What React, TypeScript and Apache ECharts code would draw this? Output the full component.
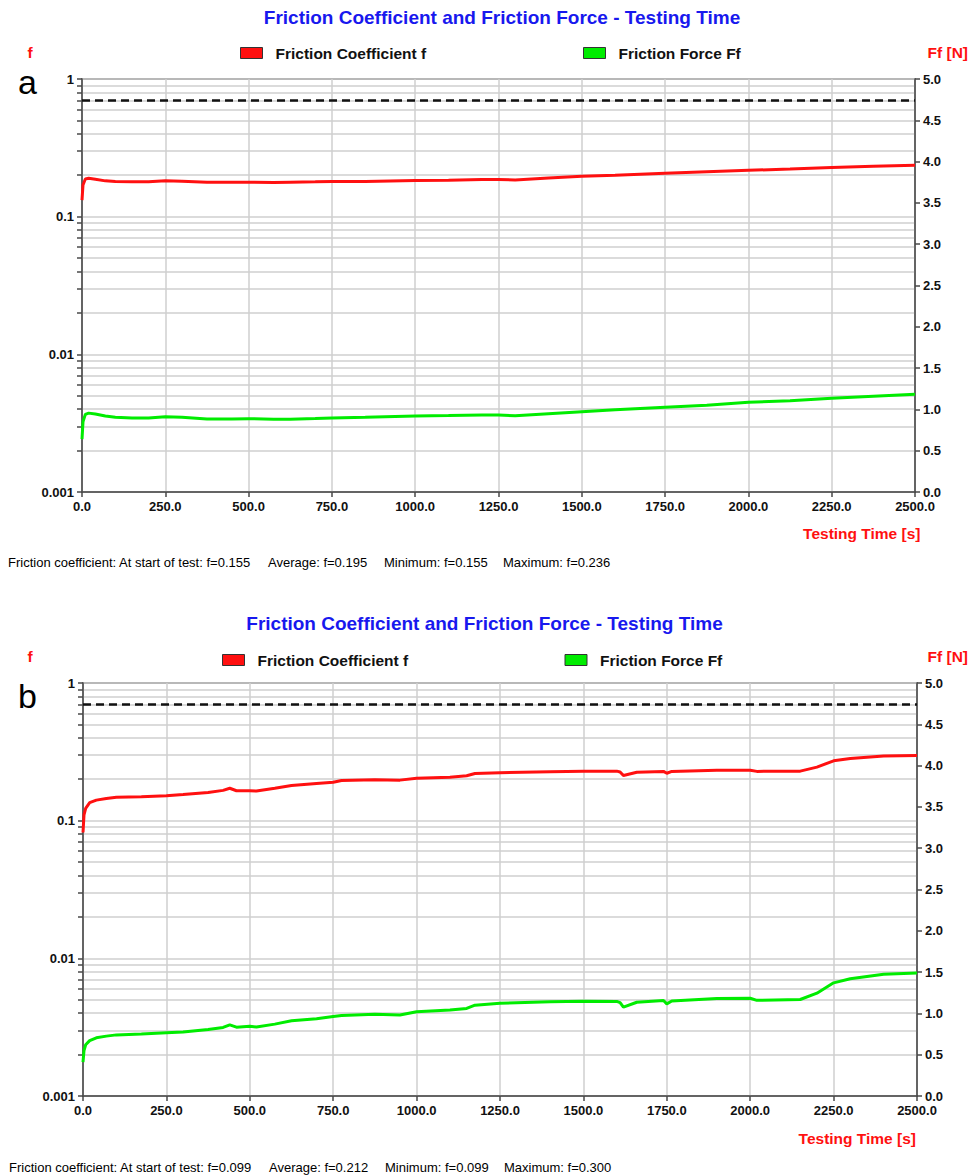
import React, { useEffect, useRef } from "react";
import * as echarts from "echarts";

const TITLE = "Friction Coefficient and Friction Force - Testing Time";
const NAME_F = "Friction Coefficient f";
const NAME_FF = "Friction Force Ff";
const LEFT_AXIS_NAME = "f";
const RIGHT_AXIS_NAME = "Ff [N]";
const X_AXIS_NAME = "Testing Time [s]";

// Panel a
const TIME_A = [0, 3, 10, 20, 40, 70, 100, 150, 200, 250, 300, 375, 450, 500, 575, 625, 700, 750, 850, 1000, 1100, 1200, 1250, 1300, 1400, 1500, 1600, 1750, 1875, 2000, 2125, 2250, 2375, 2500];
const F_A = [0.132, 0.17, 0.188, 0.19, 0.187, 0.182, 0.18, 0.179, 0.179, 0.182, 0.181, 0.178, 0.178, 0.178, 0.177, 0.178, 0.179, 0.18, 0.18, 0.183, 0.184, 0.186, 0.186, 0.185, 0.191, 0.197, 0.2, 0.207, 0.212, 0.217, 0.222, 0.228, 0.232, 0.236];
const FF_A = [0.64, 0.85, 0.94, 0.955, 0.945, 0.92, 0.905, 0.895, 0.895, 0.91, 0.905, 0.885, 0.885, 0.888, 0.882, 0.882, 0.89, 0.896, 0.905, 0.92, 0.925, 0.932, 0.932, 0.924, 0.948, 0.972, 0.995, 1.025, 1.05, 1.086, 1.105, 1.134, 1.16, 1.183];
const STATS_A = ["Friction coefficient: At start of test: f=0.155", "Average: f=0.195", "Minimum: f=0.155", "Maximum: f=0.236"];

// Panel b
const TIME_B = [0, 3, 8, 20, 40, 70, 100, 175, 250, 300, 375, 420, 440, 460, 500, 520, 575, 625, 700, 750, 775, 875, 950, 1000, 1100, 1150, 1175, 1250, 1400, 1500, 1600, 1610, 1620, 1660, 1740, 1750, 1765, 1900, 2000, 2020, 2150, 2200, 2250, 2300, 2400, 2500];
const F_B = [0.082, 0.11, 0.123, 0.135, 0.141, 0.145, 0.148, 0.149, 0.152, 0.155, 0.16, 0.166, 0.172, 0.165, 0.165, 0.164, 0.172, 0.18, 0.186, 0.19, 0.196, 0.198, 0.197, 0.203, 0.207, 0.212, 0.22, 0.223, 0.227, 0.229, 0.229, 0.226, 0.213, 0.225, 0.228, 0.221, 0.228, 0.232, 0.232, 0.228, 0.229, 0.245, 0.272, 0.283, 0.295, 0.297];
const FF_B = [0.41, 0.55, 0.62, 0.67, 0.705, 0.725, 0.74, 0.75, 0.765, 0.775, 0.805, 0.83, 0.862, 0.833, 0.845, 0.835, 0.87, 0.91, 0.935, 0.962, 0.975, 0.99, 0.98, 1.02, 1.04, 1.06, 1.1, 1.124, 1.14, 1.148, 1.145, 1.13, 1.075, 1.135, 1.156, 1.116, 1.15, 1.18, 1.184, 1.158, 1.168, 1.245, 1.37, 1.42, 1.475, 1.49];
const STATS_B = ["Friction coefficient: At start of test: f=0.099", "Average: f=0.212", "Minimum: f=0.099", "Maximum: f=0.300"];

const LIMIT_F = 0.7;
const F_MIN = 0.001;
const F_MAX = 1;
const FF_MIN = 0;
const FF_MAX = 5;
const FF_STEP = 0.5;
const T_MIN = 0;
const T_MAX = 2500;
const T_STEP = 250;
const LOG_DECADES = [0.001, 0.01, 0.1];
const LOG_MULTIPLIERS = [1, 2, 3, 4, 5, 6, 7, 8, 9];

const FONT = '"Liberation Sans", Arial, sans-serif';
const RED = "#ff1010";
const GREEN = "#00ec00";
const AXIS_COLOR = "#484848";
const GRID_COLOR = "#cfcfcf";
const TEXT_COLOR = "#111111";
const TITLE_COLOR = "#1818ee";

// minor-grid positions of the log axis, in log10 space
const MINOR_LOG_POS = [
  ...LOG_DECADES.flatMap((d) => LOG_MULTIPLIERS.map((m) => Math.log10(d * m))),
  Math.log10(F_MAX),
];

const fmtLog = (v: number) => String(parseFloat(Number(v).toPrecision(3)));
const fmt1 = (v: number) => Number(v).toFixed(1);

type Panel = {
  time: number[];
  f: number[];
  ff: number[];
  stats: string[];
  letter: string;
  grid: { left: number; top: number; width: number; height: number };
  titleX: number;
  titleY: number;
  legendY: number;
  legendRedX: number;
  legendGreenX: number;
  fLabelY: number;
  letterY: number;
  xNameRight: number;
  xNameY: number;
  statsY: number;
  statsX: number[];
};

const PANELS: Panel[] = [
  {
    time: TIME_A, f: F_A, ff: FF_A, stats: STATS_A, letter: "a",
    grid: { left: 82, top: 79, width: 833, height: 413 },
    titleX: 502, titleY: 17, legendY: 54, legendRedX: 240, legendGreenX: 583,
    fLabelY: 52.5, letterY: 82, xNameRight: 920.5, xNameY: 533.5,
    statsY: 562, statsX: [8, 268, 384, 503],
  },
  {
    time: TIME_B, f: F_B, ff: FF_B, stats: STATS_B, letter: "b",
    grid: { left: 83, top: 683, width: 834, height: 413 },
    titleX: 484.5, titleY: 623.5, legendY: 661, legendRedX: 222, legendGreenX: 564.5,
    fLabelY: 656.5, letterY: 695.5, xNameRight: 916, xNameY: 1138.5,
    statsY: 1167, statsX: [9, 269, 385, 504],
  },
];

function txt(text: string, x: number, y: number, o: any = {}) {
  const align = o.align || "left";
  return {
    type: "text",
    x,
    y,
    silent: true,
    style: {
      text,
      fill: o.color || TEXT_COLOR,
      fontSize: o.size || 13,
      fontWeight: o.weight || "normal",
      fontFamily: FONT,
      align,
      textAlign: align,
      verticalAlign: "middle",
      textVerticalAlign: "middle",
    },
  };
}

export default function App() {
  const ref = useRef<HTMLDivElement>(null);

  useEffect(() => {
    const chart = echarts.init(ref.current!, null, { renderer: "svg" });
    const axisLine = { show: true, onZero: false, lineStyle: { color: AXIS_COLOR, width: 1.5 } };
    const axisTick = { show: true, length: 5, lineStyle: { color: AXIS_COLOR, width: 1.5 } };
    const axisLabel = { fontSize: 13, color: TEXT_COLOR, fontFamily: FONT, fontWeight: "bold" };

    const grids: any[] = [];
    const xAxes: any[] = [];
    const yAxes: any[] = [];
    const series: any[] = [];
    const legends: any[] = [];
    const graphics: any[] = [];

    PANELS.forEach((p, gi) => {
      grids.push({
        ...p.grid,
        show: true,
        borderColor: AXIS_COLOR,
        borderWidth: 1.5,
        backgroundColor: "transparent",
      });
      xAxes.push({
        type: "value",
        gridIndex: gi,
        min: T_MIN,
        max: T_MAX,
        interval: T_STEP,
        axisLine,
        axisTick,
        axisLabel: { ...axisLabel, formatter: fmt1, margin: 8 },
        splitLine: { show: true, lineStyle: { color: GRID_COLOR, width: 1.5 } },
      });
      const yBase = yAxes.length;
      yAxes.push({
        type: "log",
        gridIndex: gi,
        logBase: 10,
        min: F_MIN,
        max: F_MAX,
        position: "left",
        axisLine,
        axisTick: { show: false },
        splitLine: { show: false },
        axisLabel: { ...axisLabel, formatter: fmtLog, margin: 8 },
      });
      yAxes.push({
        type: "value",
        gridIndex: gi,
        min: Math.log10(F_MIN),
        max: Math.log10(F_MAX),
        position: "left",
        axisLine: { show: false },
        axisLabel: { show: false },
        axisTick: { ...axisTick, customValues: MINOR_LOG_POS },
        splitLine: { show: true, lineStyle: { color: GRID_COLOR, width: 1.5 } },
      });
      yAxes.push({
        type: "value",
        gridIndex: gi,
        min: FF_MIN,
        max: FF_MAX,
        interval: FF_STEP,
        position: "right",
        axisLine,
        axisTick,
        axisLabel: { ...axisLabel, formatter: fmt1, margin: 8 },
        splitLine: { show: false },
      });

      series.push({
        type: "line",
        name: NAME_F,
        xAxisIndex: gi,
        yAxisIndex: yBase,
        data: p.time.map((t, i) => [t, p.f[i]]),
        showSymbol: false,
        symbol: "none",
        lineStyle: { color: RED, width: 3 },
        itemStyle: { color: RED },
        z: 4,
        markLine: {
          silent: true,
          symbol: "none",
          label: { show: false },
          lineStyle: { color: "#111", width: 2.5, type: [8, 5] },
          data: [{ yAxis: LIMIT_F }],
        },
      });
      series.push({
        type: "line",
        name: NAME_FF,
        xAxisIndex: gi,
        yAxisIndex: yBase + 2,
        data: p.time.map((t, i) => [t, p.ff[i]]),
        showSymbol: false,
        symbol: "none",
        lineStyle: { color: GREEN, width: 3 },
        itemStyle: { color: GREEN },
        z: 4,
      });

      const legendBase = {
        orient: "horizontal",
        icon: "rect",
        itemWidth: 22,
        itemHeight: 11,
        padding: 0,
        selectedMode: false,
        itemStyle: { borderColor: "#333", borderWidth: 1 },
        textStyle: {
          fontSize: 15.5,
          fontWeight: "bold",
          color: TEXT_COLOR,
          fontFamily: FONT,
          padding: [0, 0, 0, 8],
        },
      };
      legends.push({ ...legendBase, data: [NAME_F], left: p.legendRedX, top: p.legendY - 9 });
      legends.push({ ...legendBase, data: [NAME_FF], left: p.legendGreenX, top: p.legendY - 9 });

      graphics.push(txt(TITLE, p.titleX, p.titleY, { align: "center", size: 19, weight: "bold", color: TITLE_COLOR }));
      graphics.push(txt(LEFT_AXIS_NAME, 30, p.fLabelY, { align: "center", size: 15.5, weight: "bold", color: RED }));
      graphics.push(txt(RIGHT_AXIS_NAME, 968, p.fLabelY, { align: "right", size: 15.5, weight: "bold", color: RED }));
      graphics.push(txt(p.letter, 18, p.letterY, { size: 34, color: "#000" }));
      graphics.push(txt(X_AXIS_NAME, p.xNameRight, p.xNameY, { align: "right", size: 15.5, weight: "bold", color: RED }));
      p.stats.forEach((s, i) => graphics.push(txt(s, p.statsX[i], p.statsY, { size: 13, color: "#000" })));
    });

    chart.setOption({
      animation: false,
      backgroundColor: "#ffffff",
      grid: grids,
      xAxis: xAxes,
      yAxis: yAxes,
      legend: legends,
      series,
      graphic: { elements: graphics },
    });

    return () => chart.dispose();
  }, []);

  return (
    <div
      ref={ref}
      style={{ position: "absolute", left: 0, top: 0, width: 972, height: 1176, background: "#fff" }}
    />
  );
}
